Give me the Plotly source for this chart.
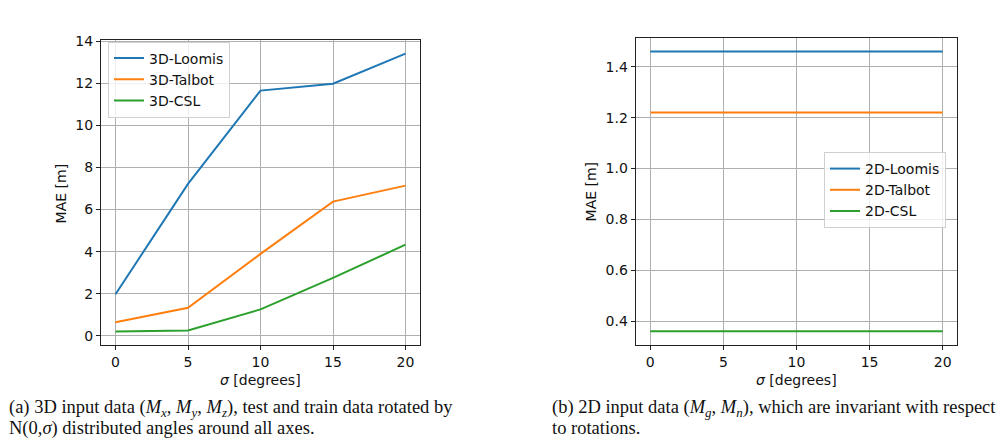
import plotly.graph_objects as go

# ---- data ----
sigma = [0, 5, 10, 15, 20]
loomis_3d = [1.97, 7.22, 11.66, 11.99, 13.42]
talbot_3d = [0.64, 1.33, 3.89, 6.38, 7.14]
csl_3d = [0.20, 0.25, 1.25, 2.75, 4.33]

loomis_2d = [1.46, 1.46, 1.46, 1.46, 1.46]
talbot_2d = [1.22, 1.22, 1.22, 1.22, 1.22]
csl_2d = [0.36, 0.36, 0.36, 0.36, 0.36]

names_3d = ["3D-Loomis", "3D-Talbot", "3D-CSL"]
names_2d = ["2D-Loomis", "2D-Talbot", "2D-CSL"]
colors = ["#1f77b4", "#ff7f0e", "#2ca02c"]

x_ticks = [0, 5, 10, 15, 20]
y_ticks_left = [0, 2, 4, 6, 8, 10, 12, 14]
y_ticks_right = [0.4, 0.6, 0.8, 1.0, 1.2, 1.4]

caption_a = ["(a) 3D input data (<i>M</i><sub><i>x</i></sub>, <i>M</i><sub><i>y</i></sub>, <i>M</i><sub><i>z</i></sub>), test and train data rotated by",
             "N(0,<i>σ</i>) distributed angles around all axes."]
caption_b = ["(b) 2D input data (<i>M</i><sub><i>g</i></sub>, <i>M</i><sub><i>n</i></sub>), which are invariant with respect",
             "to rotations."]

W, H = 1008, 443
def px(x):
    return x / W
def py(y):
    return 1 - y / H

fig = go.Figure()
for vals, name, c in zip([loomis_3d, talbot_3d, csl_3d], names_3d, colors):
    fig.add_trace(go.Scatter(x=sigma, y=vals, name=name, mode="lines",
                             line=dict(color=c, width=2), xaxis="x", yaxis="y",
                             legend="legend"))
for vals, name, c in zip([loomis_2d, talbot_2d, csl_2d], names_2d, colors):
    fig.add_trace(go.Scatter(x=sigma, y=vals, name=name, mode="lines",
                             line=dict(color=c, width=2), xaxis="x2", yaxis="y2",
                             legend="legend2"))

FS = 14
tickfont = dict(family="DejaVu Sans", size=FS, color="#111")
axis_common = dict(showline=True, linecolor="#222", linewidth=1.2, mirror=True,
                   ticks="outside", ticklen=4, tickwidth=1, tickcolor="#222",
                   showgrid=True, gridcolor="#b0b0b0", gridwidth=1,
                   zeroline=False, tickfont=tickfont)

fig.update_layout(
    width=W, height=H, margin=dict(l=0, r=0, t=0, b=0),
    paper_bgcolor="white", plot_bgcolor="white",
    xaxis=dict(domain=[px(101), px(420)], range=[-1, 21], tickvals=x_ticks,
               anchor="y", **axis_common),
    yaxis=dict(domain=[py(344), py(34)], range=[-0.46, 14.09], tickvals=y_ticks_left,
               anchor="x", **axis_common),
    xaxis2=dict(domain=[px(635.7), px(957.3)], range=[-1, 21], tickvals=x_ticks,
                anchor="y2", **axis_common),
    yaxis2=dict(domain=[py(344), py(32)], range=[0.305, 1.515], tickvals=y_ticks_right,
                tickformat=".1f", anchor="x2", **axis_common),
    legend=dict(x=px(108), y=py(36), xanchor="left", yanchor="top",
                bgcolor="rgba(255,255,255,0.8)", bordercolor="#d0d0d0", borderwidth=1,
                font=dict(family="DejaVu Sans", size=FS, color="#111"),
                tracegroupgap=0),
    legend2=dict(x=px(824), y=py(148), xanchor="left", yanchor="top",
                 bgcolor="rgba(255,255,255,0.8)", bordercolor="#d0d0d0", borderwidth=1,
                 font=dict(family="DejaVu Sans", size=FS, color="#111"),
                 tracegroupgap=0),
    showlegend=True,
)

ann = []
# axis titles
for xc, yc in [(260.5, 379), (796.5, 379)]:
    ann.append(dict(text="<i>σ</i> [degrees]", x=px(xc), y=py(yc), xref="paper", yref="paper",
                    showarrow=False, xanchor="center", yanchor="middle",
                    font=dict(family="DejaVu Sans", size=FS, color="#111")))
for xc, yc in [(61, 190), (591, 188)]:
    ann.append(dict(text="MAE [m]", x=px(xc), y=py(yc), xref="paper", yref="paper",
                    showarrow=False, xanchor="center", yanchor="middle", textangle=-90,
                    font=dict(family="DejaVu Sans", size=FS, color="#111")))
# captions
capfont = dict(family="Liberation Serif", size=18.5, color="#111")
for lines, x0 in [(caption_a, 7), (caption_b, 550)]:
    for i, t in enumerate(lines):
        ann.append(dict(text=t, x=px(x0), y=py(408 + 20 * i), xref="paper", yref="paper",
                        showarrow=False, xanchor="left", yanchor="middle", align="left",
                        font=capfont))
fig.update_layout(annotations=ann)

fig.write_html("out.html")
